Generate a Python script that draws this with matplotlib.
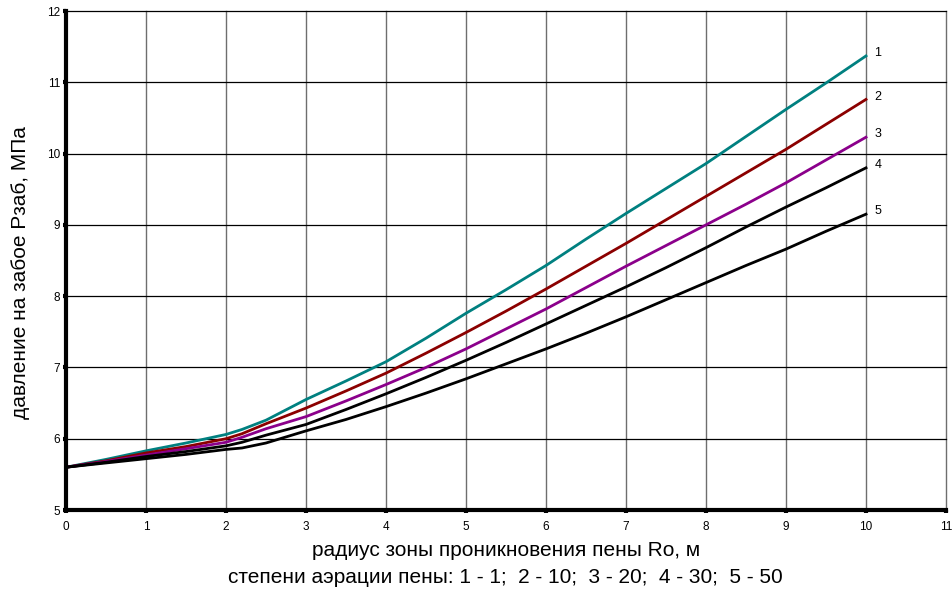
import matplotlib
matplotlib.use("Agg")
import matplotlib.pyplot as plt

plt.rcParams['font.family'] = ['Liberation Sans', 'DejaVu Sans']

x = [0, 0.5, 1, 1.5, 2, 2.2, 2.5, 3, 3.5, 4, 4.5, 5, 5.5, 6, 6.5, 7, 7.5, 8, 8.5, 9, 9.5, 10]
y1 = [5.60, 5.71, 5.83, 5.94, 6.06, 6.13, 6.26, 6.55, 6.81, 7.08, 7.41, 7.76, 8.09, 8.43, 8.80, 9.16, 9.51, 9.86, 10.24, 10.62, 10.99, 11.37]
y2 = [5.60, 5.69, 5.80, 5.89, 6.00, 6.07, 6.21, 6.43, 6.67, 6.92, 7.20, 7.49, 7.79, 8.10, 8.42, 8.74, 9.07, 9.40, 9.73, 10.06, 10.41, 10.76]
y3 = [5.60, 5.68, 5.77, 5.86, 5.95, 6.02, 6.14, 6.31, 6.53, 6.76, 7.00, 7.26, 7.54, 7.82, 8.12, 8.42, 8.71, 9.00, 9.29, 9.59, 9.91, 10.23]
y4 = [5.60, 5.67, 5.75, 5.82, 5.90, 5.95, 6.05, 6.20, 6.41, 6.63, 6.86, 7.10, 7.35, 7.61, 7.87, 8.13, 8.40, 8.68, 8.97, 9.25, 9.52, 9.80]
y5 = [5.60, 5.66, 5.72, 5.78, 5.85, 5.87, 5.94, 6.11, 6.27, 6.45, 6.64, 6.84, 7.05, 7.26, 7.48, 7.71, 7.95, 8.19, 8.43, 8.66, 8.91, 9.15]
series = [y1, y2, y3, y4, y5]
labels = ['1', '2', '3', '4', '5']
colors = ['#008080', '#8B0000', '#8B008B', '#000000', '#000000']
xticks = list(range(0, 12))
yticks = list(range(5, 13))

fig = plt.figure(figsize=(9.52, 5.89), dpi=100)
ax = fig.add_axes([0.0693, 0.1341, 0.9244, 0.8472])
ax.set_xlim(0, 11)
ax.set_ylim(5, 12)
ax.set_xticks(xticks)
ax.set_yticks(yticks)

for xv in xticks[1:]:
    ax.axvline(xv, color='#6e6e6e', lw=1.0, zorder=1, clip_on=False)
for yv in yticks[1:]:
    ax.axhline(yv, color='#000000', lw=0.9, zorder=1, clip_on=False)

for ys, lab, c in zip(series, labels, colors):
    ax.plot(x, ys, color=c, lw=2.0, zorder=3, solid_joinstyle='round')
    ax.annotate(lab, xy=(x[-1], ys[-1]), xytext=(6, 2), textcoords='offset points',
                fontsize=9, color='#000000', va='center', ha='left')

for s in ['top', 'right']:
    ax.spines[s].set_visible(False)
for s in ['left', 'bottom']:
    ax.spines[s].set_linewidth(3.0)
    ax.spines[s].set_color('black')
    ax.spines[s].set_zorder(4)

ax.tick_params(axis='both', length=2, width=3, labelsize=8.5, color='black')
ax.tick_params(axis='x', pad=6)
ax.tick_params(axis='y', pad=2)
ax.set_xlabel('радиус зоны проникновения пены Ro, м', fontsize=15)
ax.xaxis.set_label_coords(0.5, -0.082)
ax.xaxis.label.set_va('center')
ax.set_ylabel('давление на забое Рзаб, МПа', fontsize=15)
ax.yaxis.set_label_coords(-0.041, 0.475)
fig.text(0.531, 0.020, 'степени аэрации пены: 1 - 1;  2 - 10;  3 - 20;  4 - 30;  5 - 50',
         fontsize=15, ha='center', va='center')

fig.savefig('out.png', dpi=100)
